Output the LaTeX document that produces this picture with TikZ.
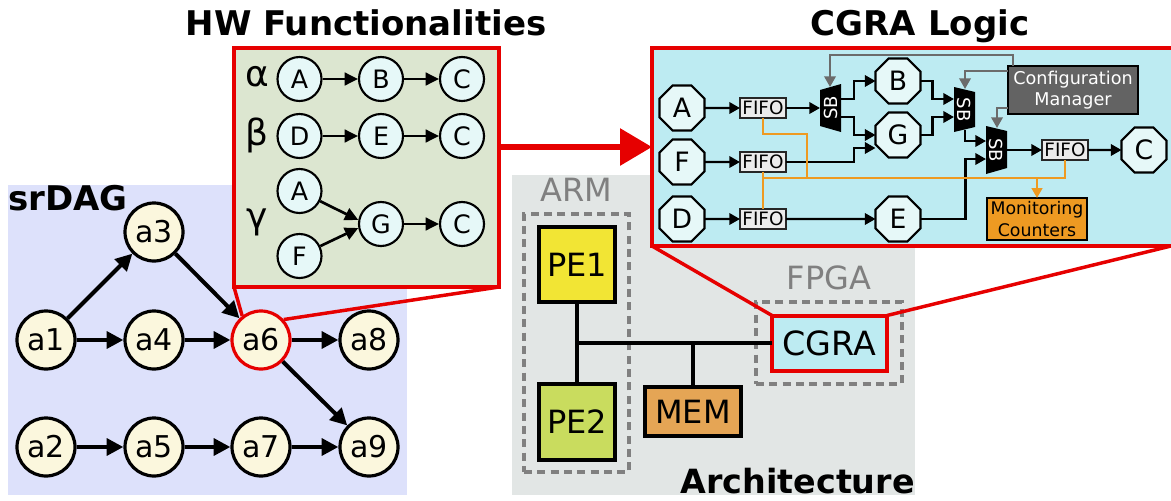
\documentclass[tikz,border=0pt]{standalone}
\usepackage{fontspec}
\setmainfont{DejaVu Sans}
\usetikzlibrary{arrows.meta,shapes.geometric}
\definecolor{dagbg}{HTML}{DDE1FB}
\definecolor{archbg}{HTML}{E2E6E5}
\definecolor{hwbg}{HTML}{DCE6D0}
\definecolor{logicbg}{HTML}{BDEBF2}
\definecolor{task}{HTML}{FBF7DD}
\definecolor{func}{HTML}{E6F8F8}
\definecolor{zoomred}{HTML}{E60000}
\definecolor{mgrgray}{HTML}{636363}
\definecolor{cntorange}{HTML}{EE9A22}
\definecolor{memorange}{HTML}{E5A555}
\definecolor{peyellow}{HTML}{F2E534}
\definecolor{pegreen}{HTML}{C9DC5E}
\definecolor{wiregray}{HTML}{6B6B6B}
\newcommand{\fs}[1]{\fontsize{#1}{#1}\selectfont}
\tikzset{
	wh/.style 2 args={minimum width=#1*0.75pt,minimum height=#2*0.75pt,inner sep=0pt,outer sep=0pt},
	title/.style={inner sep=0pt,font=\fs{25.5}\bfseries},
	dagnode/.style={shape=circle,draw=black,fill=task,line width=2.4pt,minimum size=43.5pt,inner sep=0pt,font=\fs{22.5}},
	dagarrow/.style={line width=3pt,-{Triangle[length=12.5pt,width=12.5pt]}},
	funcnode/.style={shape=circle,draw=black,fill=func,line width=1.6pt,minimum size=33pt,inner sep=0pt,font=\fs{19}},
	funcarrow/.style={line width=2pt,-{Triangle[length=10pt,width=9.5pt]}},
	greek/.style={inner sep=0pt,font=\fs{27}},
	pe/.style={draw=black,line width=3pt,font=\fs{24}},
	bus/.style={line width=3pt},
	grouplabel/.style={inner sep=0pt,text=black!50,font=\fs{24}},
	groupbox/.style={draw=black!50,line width=2.8pt,dash pattern=on 6pt off 4pt},
	zoomline/.style={draw=zoomred,line width=2.6pt},
	octa/.style={shape=regular polygon,regular polygon sides=8,draw=black,fill=func,line width=1.6pt,minimum size=36.5pt,inner sep=0pt,outer sep=0pt,font=\fs{20}},
	fifo/.style={draw=black!85,fill=black!8,line width=1.8pt,wh={46}{20},font=\fs{13.8}},
	sbshape/.style={fill=black},
	sbtext/.style={inner sep=0pt,text=white,font=\fs{13.5}},
	wire/.style={line width=1.8pt,-{Triangle[length=8pt,width=8.5pt]}},
	cfgwire/.style={draw=wiregray,line width=1.8pt,-{Triangle[length=8pt,width=8.5pt]}},
	monwire/.style={draw=cntorange,line width=1.8pt},
}
\begin{document}
\begin{tikzpicture}[x=0.75pt,y=-0.75pt]
	\useasboundingbox (0,0) rectangle (1171,500);
	% backgrounds
	\node[wh={399}{310},fill=dagbg] (dagbg) at (207.5,340) {};
	\node[wh={403}{320},fill=archbg] (archbg) at (713.5,335) {};
	% srDAG
	\node[title,anchor=base west] (dagtitle) at (8,210) {srDAG};
	\node[dagnode] (a1) at (46,340) {a1};
	\node[dagnode] (a2) at (46,447) {a2};
	\node[dagnode] (a3) at (154,232) {a3};
	\node[dagnode] (a4) at (154,340) {a4};
	\node[dagnode] (a5) at (154,447) {a5};
	\node[dagnode,draw=zoomred] (a6) at (261,340) {a6};
	\node[dagnode] (a7) at (261,447) {a7};
	\node[dagnode] (a8) at (369,340) {a8};
	\node[dagnode] (a9) at (369,447) {a9};
	\path [dagarrow] (a1) edge (a3);
	\path [dagarrow] (a1) edge (a4);
	\path [dagarrow] (a3) edge (a6);
	\path [dagarrow] (a4) edge (a6);
	\path [dagarrow] (a6) edge (a8);
	\path [dagarrow] (a6) edge (a9);
	\path [dagarrow] (a2) edge (a5);
	\path [dagarrow] (a5) edge (a7);
	\path [dagarrow] (a7) edge (a9);
	% architecture
	\node[title,anchor=base east,font=\fs{25}\bfseries] (archtitle) at (915,493) {Architecture};
	\node[grouplabel] (armlabel) at (576,190) {ARM};
	\node[grouplabel] (fpgalabel) at (829,278) {FPGA};
	\node[groupbox,wh={105}{258}] (armbox) at (576.5,343) {};
	\node[groupbox,wh={146}{82}] (fpgabox) at (829,343) {};
	\node[pe,fill=peyellow,wh={76}{75}] (pe1) at (577,264.5) {PE1};
	\node[pe,fill=pegreen,wh={76}{76}] (pe2) at (577,422) {PE2};
	\node[pe,fill=memorange,wh={96}{49}] (mem) at (693,411.5) {MEM};
	\node[pe,draw=zoomred,fill=logicbg,wh={115}{55},font=\fs{25}] (cgra) at (829.5,343) {CGRA};
	\coordinate (busl) at (577,343);
	\coordinate (busm) at (693,343);
	\path [bus] (pe1) edge (pe2);
	\path [bus] (busl) edge (cgra);
	\path [bus] (busm) edge (mem);
	% zoom boxes
	\node[draw=zoomred,line width=3pt,fill=hwbg,wh={265}{239}] (hwbox) at (366.5,167.5) {};
	\node[draw=zoomred,line width=3pt,fill=logicbg,wh={530}{198}] (logicbox) at (917,147) {};
	\draw[zoomline] (hwbox.south west) -- (a6.128);
	\draw[zoomline] (hwbox.south east) -- (a6.42);
	\draw[zoomline] (logicbox.south west) -- (cgra.north west);
	\coordinate (logicse) at (1171,246);
	\draw[zoomline] (logicse) -- (cgra.north east);
	\coordinate (zoomfrom) at (499,147);
	\coordinate (zoomto) at (652,147);
	\draw[draw=zoomred,line width=4.5pt,-{Triangle[length=24pt,width=27pt]}] (zoomfrom) -- (zoomto);
	\node[title,anchor=base] (hwtitle) at (366,35) {HW Functionalities};
	\node[title,anchor=base] (logictitle) at (920,35) {CGRA Logic};
	% functionalities
	\node[greek] (alpha) at (257,77) {α};
	\node[greek] (beta) at (257,135) {β};
	\node[greek] (gamma) at (257,222) {γ};
	\node[funcnode] (fa1) at (299.5,79) {A};
	\node[funcnode] (fb1) at (381,79) {B};
	\node[funcnode] (fc1) at (462,79) {C};
	\node[funcnode] (fd2) at (299.5,136) {D};
	\node[funcnode] (fe2) at (381,136) {E};
	\node[funcnode] (fc2) at (462,136) {C};
	\node[funcnode] (fa3) at (299.5,191) {A};
	\node[funcnode] (ff3) at (299.5,256) {F};
	\node[funcnode] (fg3) at (381,224) {G};
	\node[funcnode] (fc3) at (462,224) {C};
	\path [funcarrow] (fa1) edge (fb1);
	\path [funcarrow] (fb1) edge (fc1);
	\path [funcarrow] (fd2) edge (fe2);
	\path [funcarrow] (fe2) edge (fc2);
	\path [funcarrow] (fa3) edge (fg3.170);
	\path [funcarrow] (ff3) edge (fg3.190);
	\path [funcarrow] (fg3) edge (fc3);
	% logic
	\node[octa] (lA) at (682,108) {A};
	\node[octa] (lF) at (682,162) {F};
	\node[octa] (lD) at (682,219) {D};
	\node[octa] (lB) at (898,81) {B};
	\node[octa] (lG) at (898,135) {G};
	\node[octa] (lE) at (898,219) {E};
	\node[octa] (lC) at (1144,150) {C};
	\node[fifo] (fifoA) at (763,108) {FIFO};
	\node[fifo] (fifoF) at (763,162) {FIFO};
	\node[fifo] (fifoD) at (763,219) {FIFO};
	\node[fifo] (fifoC) at (1065,150) {FIFO};
	\fill[sbshape] (820,90) -- (841,84) -- (841,132) -- (820,126) -- cycle;
	\fill[sbshape] (954,87) -- (975,92) -- (975,127) -- (954,132) -- cycle;
	\fill[sbshape] (986,126) -- (1007,131) -- (1007,168) -- (986,174) -- cycle;
	\node[sbtext,rotate=90] (sb1) at (830.5,108) {SB};
	\node[sbtext,rotate=-90] (sb2) at (964.5,109.5) {SB};
	\node[sbtext,rotate=-90] (sb3) at (996.5,150) {SB};
	\node[draw=black,fill=mgrgray,text=white,line width=1.8pt,wh={130}{48},align=center,font=\fs{13.2}] (mgr) at (1073,90) {Configuration\\[3pt]Manager};
	\node[draw=black,fill=cntorange,line width=1.8pt,wh={100}{42},align=center,font=\fs{13}] (mon) at (1037,219) {Monitoring\\[3pt]Counters};
	\coordinate (sb1in) at (820,108);
	\coordinate (sb1up) at (841,99);
	\coordinate (sb1dn) at (841,117);
	\coordinate (sb2up) at (954,99);
	\coordinate (sb2dn) at (954,117);
	\coordinate (sb2out) at (965,130);
	\coordinate (sb3up) at (986,141);
	\coordinate (sb3dn) at (986,159);
	\coordinate (sb3out) at (1007,150);
	\coordinate (gin) at (875.5,148);
	\path [wire] (lA) edge (fifoA);
	\path [wire] (lF) edge (fifoF);
	\path [wire] (lD) edge (fifoD);
	\path [wire] (fifoA) edge (sb1in);
	\path [wire] (fifoD) edge (lE);
	\path [wire] (sb3out) edge (fifoC);
	\path [wire] (fifoC) edge (lC);
	\draw[wire] (sb1up) -- ++(13,0) |- (lB.west);
	\draw[wire] (sb1dn) -- ++(13,0) |- (lG.west);
	\draw[wire] (fifoF.east) -- ++(68,0) |- (gin);
	\draw[wire] (lB.east) -- ++(12,0) |- (sb2up);
	\draw[wire] (lG.east) -- ++(12,0) |- (sb2dn);
	\draw[wire] (sb2out) |- (sb3up);
	\draw[wire] (lE.east) -- ++(45,0) |- (sb3dn);
	% configuration
	\coordinate (mgrtop) at (1013,66);
	\coordinate (mgrmid) at (1008,71);
	\coordinate (mgrlow) at (1008,108);
	\coordinate (sb1top) at (830,87);
	\coordinate (sb2top) at (965,89);
	\coordinate (sb3top) at (997,128);
	\draw[cfgwire] (mgrtop) -- ++(0,-11) -| (sb1top);
	\draw[cfgwire] (mgrmid) -| (sb2top);
	\draw[cfgwire] (mgrlow) -| (sb3top);
	% monitoring
	\coordinate (monjoin) at (807,178);
	\coordinate (montap) at (1037,178);
	\draw[monwire] (fifoA.south) -- ++(0,16) -| (monjoin);
	\draw[monwire] (fifoF.south) -- (fifoD.north);
	\draw[monwire] (fifoF.south |- montap) -| (fifoC.south);
	\draw[monwire,-{Triangle[length=7.5pt,width=8pt]}] (montap) -- (mon.north);
\end{tikzpicture}
\end{document}
